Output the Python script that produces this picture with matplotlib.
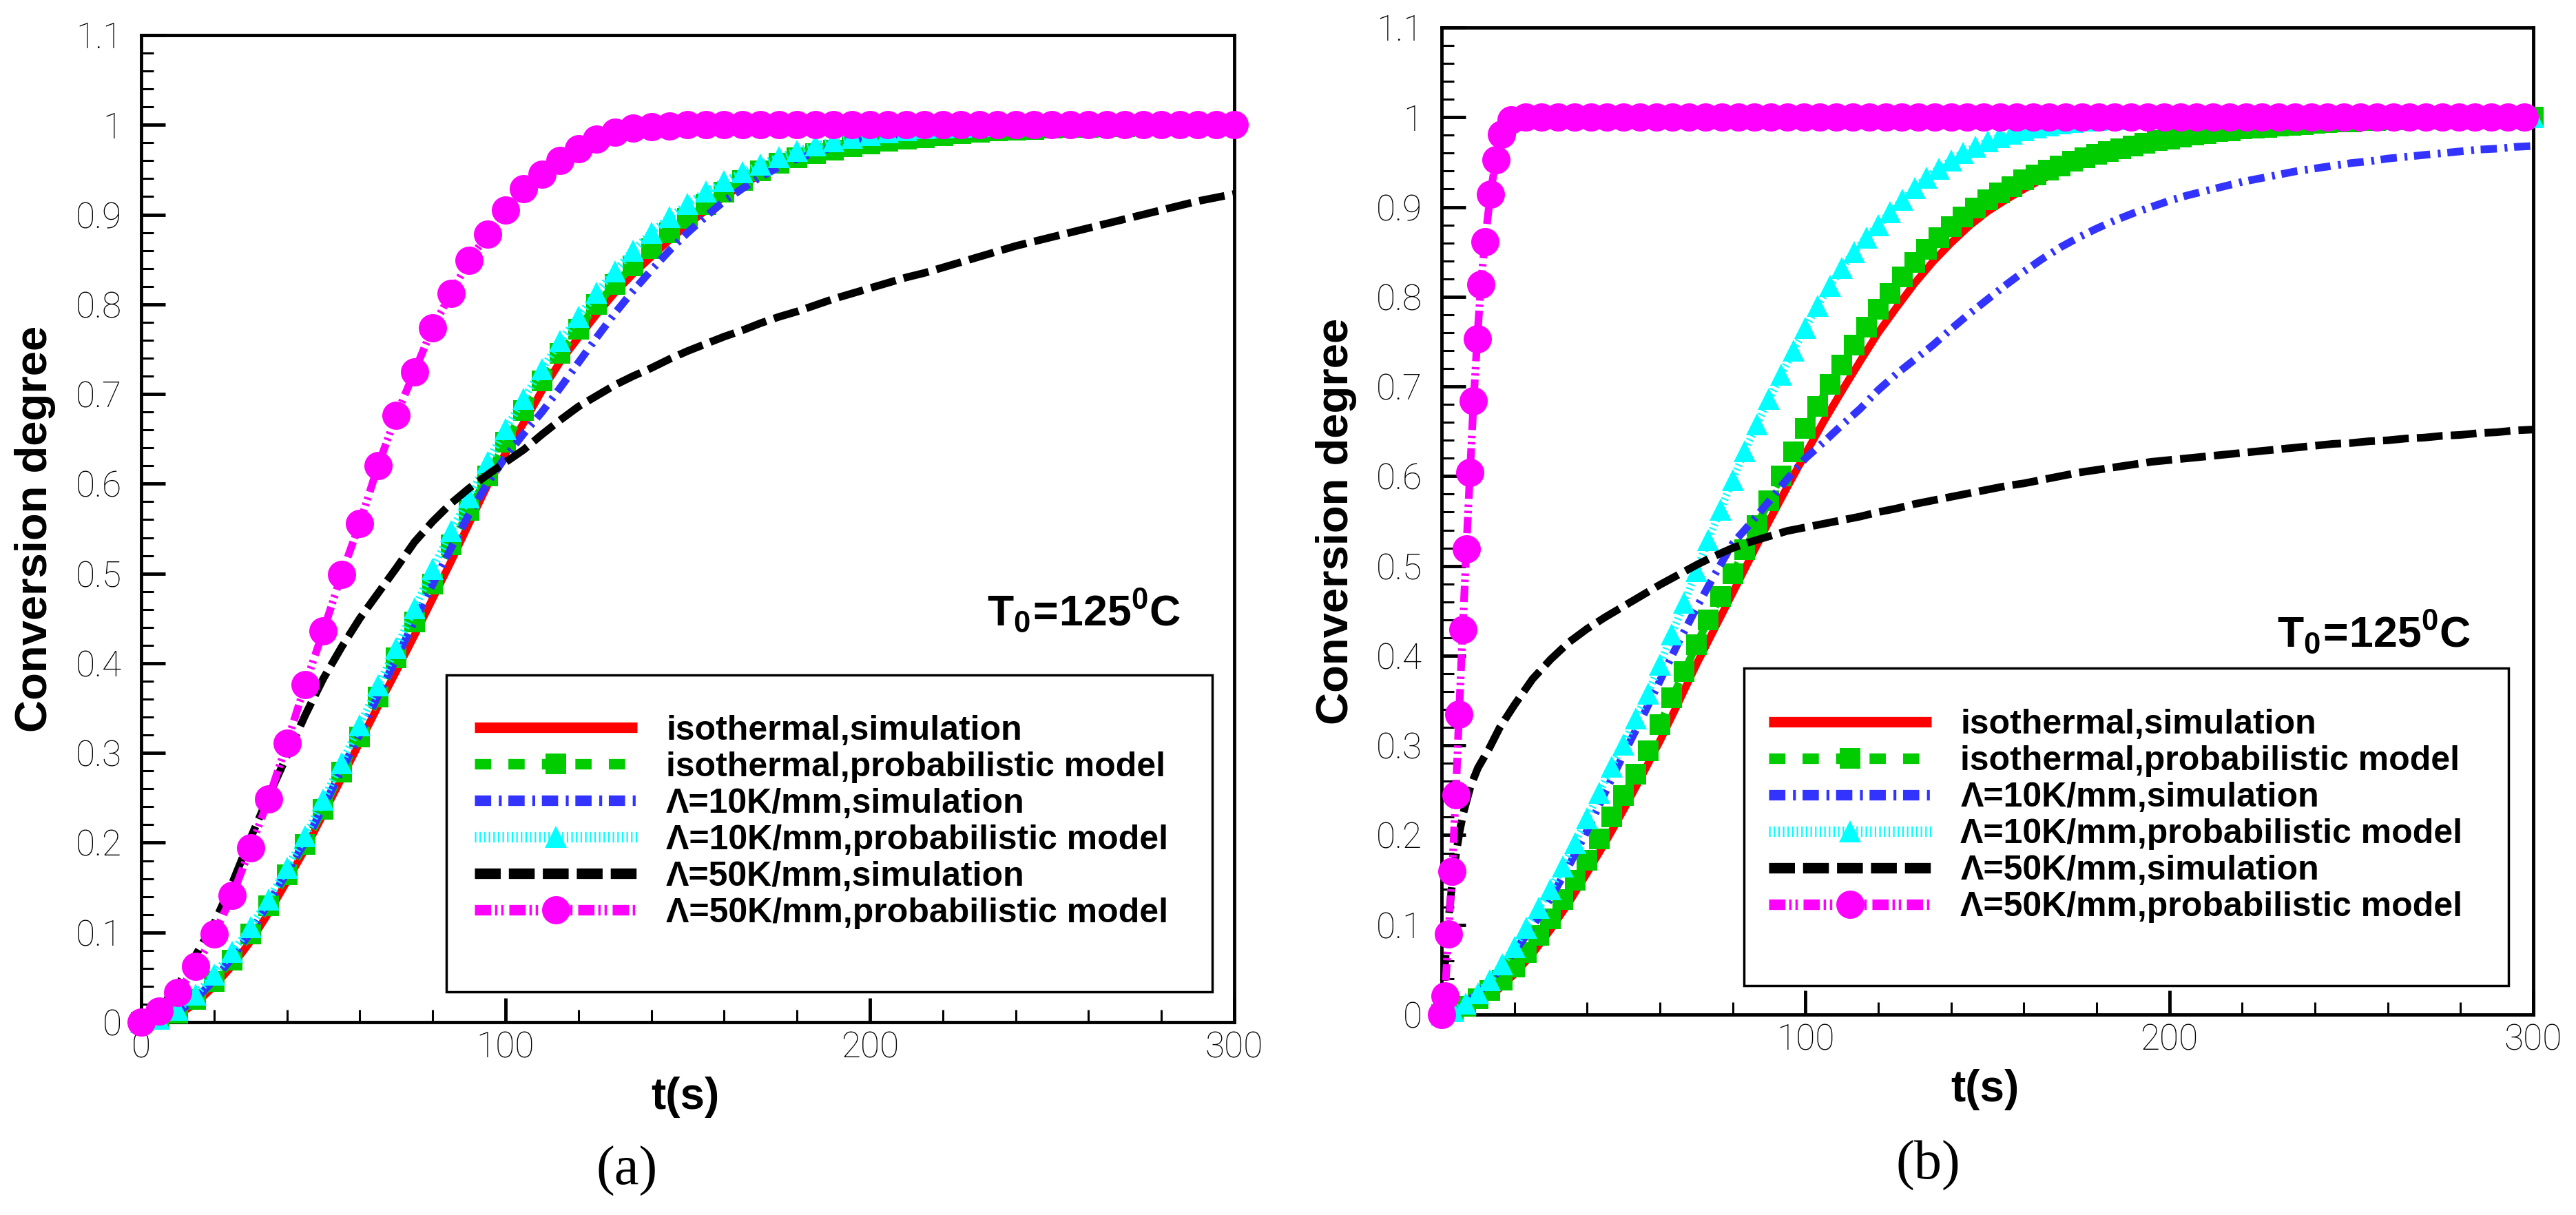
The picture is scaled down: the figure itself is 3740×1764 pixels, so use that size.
import matplotlib
matplotlib.use('Agg')
import matplotlib.pyplot as plt
from matplotlib.ticker import MultipleLocator
from matplotlib.patches import Rectangle

# ---------------- data ----------------
t5 = [0, 5, 10, 15, 20, 25, 30, 35, 40, 45, 50, 55, 60, 65, 70, 75, 80, 85, 90, 95,
      100, 105, 110, 115, 120, 125, 130, 135, 140, 145, 150, 155, 160, 165, 170, 175,
      180, 185, 190, 195, 200, 205, 210, 215, 220, 225, 230, 235, 240, 245, 250, 255,
      260, 265, 270, 275, 280, 285, 290, 295, 300]

# panel (a)
red_a = [0, .002, .008, .021, .040, .063, .090, .122, .157, .193, .232, .272, .312, .352, .391,
         .431, .472, .513, .556, .598, .634, .668, .704, .736, .763, .789, .813, .834, .853, .872,
         .889, .905, .920, .933, .945, .955, .963, .969, .974, .978, .982, .985, .987, .989, .991,
         .993, .994, .995, .996, .997, .998, .998, .999, .999, .999, 1, 1, 1, 1, 1, 1]
green_a = [0, .003, .010, .025, .045, .069, .098, .130, .164, .198, .237, .279, .318, .362, .406,
           .446, .488, .532, .570, .609, .646, .682, .715, .745, .772, .800, .822, .843, .862, .880,
           .896, .911, .925, .938, .949, .957, .963, .968, .972, .976, .979, .982, .984, .986, .988,
           .990, .992, .993, .994, .995, .996, .997, .997, .998, .998, .999, .999, .999, 1, 1, 1]
blue_a = [0, .003, .011, .026, .047, .072, .100, .133, .167, .201, .240, .281, .321, .364, .405,
          .447, .488, .528, .566, .600, .630, .656, .680, .707, .735, .763, .790, .815, .838, .860,
          .880, .898, .915, .929, .942, .953, .962, .969, .975, .980, .984, .987, .989, .991, .993,
          .994, .995, .996, .997, .998, .998, .999, .999, .999, 1, 1, 1, 1, 1, 1, 1]
cyan_a = [0, .004, .014, .031, .053, .078, .106, .137, .172, .207, .248, .289, .331, .375, .417,
          .461, .505, .547, .585, .624, .661, .695, .728, .759, .786, .813, .837, .860, .880, .897,
          .912, .926, .937, .947, .956, .964, .971, .977, .982, .986, .989, .992, .994, .996, .997,
          .998, .999, 1, 1, 1, 1, 1, 1, 1, 1, 1, 1, 1, 1, 1, 1]
black_a = [0, .015, .040, .075, .110, .155, .205, .252, .297, .342, .383, .418, .450, .478, .506,
           .535, .558, .578, .595, .610, .624, .638, .655, .671, .686, .698, .710, .720, .729, .739,
           .748, .756, .764, .771, .779, .786, .792, .799, .806, .812, .818, .824, .830, .835, .841,
           .847, .853, .859, .865, .870, .875, .880, .885, .890, .895, .900, .905, .910, .915, .919,
           .923]
magenta_a = [0, .012, .033, .062, .098, .141, .194, .249, .311, .376, .436, .499, .556, .620, .676,
             .725, .774, .812, .849, .878, .905, .929, .945, .960, .973, .984, .992, .996, .998, .999,
             1, 1, 1, 1, 1, 1, 1, 1, 1, 1, 1, 1, 1, 1, 1, 1, 1, 1, 1, 1, 1, 1, 1, 1, 1, 1, 1, 1, 1,
             1, 1]

# panel (b)
red_b = [0, .004, .012, .026, .045, .068, .095, .125, .158, .192, .228, .266, .305, .347, .390,
         .430, .470, .510, .550, .588, .625, .661, .695, .728, .760, .788, .815, .839, .860, .879,
         .895, .908, .920, .931, .940, .948, .955, .961, .966, .971, .975, .979, .982, .985, .987,
         .989, .991, .993, .994, .995, .996, .997, .997, .998, .998, .999, .999, .999, 1, 1, 1]
blue_b = [0, .008, .024, .045, .070, .098, .130, .166, .205, .248, .290, .330, .372, .414, .453,
          .490, .525, .548, .572, .597, .620, .638, .657, .675, .696, .714, .730, .746, .764, .781,
          .797, .813, .828, .842, .855, .866, .876, .885, .893, .900, .907, .913, .918, .923, .928,
          .932, .936, .940, .943, .946, .949, .951, .954, .956, .958, .960, .962, .964, .965, .967,
          .968]
t_bk = [0, 1, 2, 3, 4, 5, 6, 8, 10, 13, 16, 20, 25, 30, 35, 40, 45, 50, 55, 60, 65, 70, 75, 80,
        85, 90, 95, 100, 105, 110, 115, 120, 125, 130, 135, 140, 145, 150, 155, 160, 165, 170,
        175, 180, 185, 190, 195, 200, 205, 210, 215, 220, 225, 230, 235, 240, 245, 250, 255, 260,
        265, 270, 275, 280, 285, 290, 295, 300]
black_b = [0, .060, .110, .150, .180, .205, .225, .255, .275, .296, .320, .345, .374, .396, .415,
           .430, .443, .455, .467, .479, .490, .501, .511, .520, .527, .533, .539, .543, .547, .551,
           .555, .560, .564, .569, .573, .577, .581, .585, .589, .592, .596, .600, .604, .607, .610,
           .613, .616, .618, .620, .622, .624, .626, .628, .630, .632, .634, .636, .637, .639, .640,
           .642, .643, .645, .646, .648, .649, .651, .652]
t3 = [0, 3.3, 6.7, 10, 13.3, 16.7, 20, 23.3, 26.7, 30, 33.3, 36.7, 40, 43.3, 46.7, 50, 53.3, 56.7,
      60, 63.3, 66.7, 70, 73.3, 76.7, 80, 83.3, 86.7, 90, 93.3, 96.7, 100, 103.3, 106.7, 110, 113.3,
      116.7, 120, 123.3, 126.7, 130, 133.3, 136.7, 140, 143.3, 146.7, 150, 153.3, 156.7, 160, 163.3,
      166.7, 170, 173.3, 176.7, 180, 183.3, 186.7, 190, 193.3, 196.7, 200, 203.3, 206.7, 210, 213.3,
      216.7, 220, 223.3, 226.7, 230, 233.3, 236.7, 240, 243.3, 246.7, 250, 253.3, 256.7, 260, 263.3,
      266.7, 270, 273.3, 276.7, 280, 283.3, 286.7, 290, 293.3, 296.7, 300]
green_b = [0, .003, .009, .018, .027, .038, .053, .069, .088, .107, .128, .150, .172, .196, .220,
           .244, .268, .294, .323, .353, .382, .412, .440, .466, .491, .518, .545, .573, .600, .627,
           .653, .678, .702, .724, .746, .766, .786, .804, .822, .838, .853, .866, .878, .889, .899,
           .908, .916, .923, .930, .936, .941, .946, .951, .955, .959, .962, .965, .968, .971, .974,
           .976, .978, .980, .982, .984, .985, .987, .988, .989, .990, .991, .992, .993, .994, .995,
           .995, .996, .996, .997, .997, .998, .998, .998, .999, .999, .999, .999, 1, 1, 1, 1]
cyan_b = [0, .004, .012, .024, .038, .056, .075, .097, .119, .140, .165, .191, .219, .247, .276,
          .301, .330, .358, .390, .424, .459, .494, .529, .563, .596, .628, .658, .686, .713, .740,
          .765, .790, .812, .832, .850, .866, .880, .894, .908, .921, .933, .943, .952, .960, .967,
          .973, .978, .982, .986, .989, .991, .993, .995, .996, .997, .998, .998, .999, .999, .999,
          1, 1, 1, 1, 1, 1, 1, 1, 1, 1, 1, 1, 1, 1, 1, 1, 1, 1, 1, 1, 1, 1, 1, 1, 1, 1, 1, 1, 1, 1, 1]
t_mg = [0, 0.9, 1.9, 2.9, 3.9, 4.8, 5.8, 6.8, 7.8, 8.8, 9.8, 10.8, 11.9, 13.4, 14.9, 16.5, 19.2, 23.0,
        27.5, 32, 36.5, 41, 45.5, 50, 54.5, 59, 63.5, 68, 72.5, 77, 81.5, 86, 90.5, 95, 99.5, 104,
        108.5, 113, 117.5, 122, 126.5, 131, 135.5, 140, 144.5, 149, 153.5, 158, 162.5, 167, 171.5,
        176, 180.5, 185, 189.5, 194, 198.5, 203, 207.5, 212, 216.5, 221, 225.5, 230, 234.5, 239,
        243.5, 248, 252.5, 257, 261.5, 266, 270.5, 275, 279.5, 284, 288.5, 293, 297.5]
magenta_b = [0, .021, .090, .160, .245, .335, .429, .519, .604, .684, .753, .814, .861, .914, .953,
             .981, .997, 1.0,
             1, 1, 1, 1, 1, 1, 1, 1, 1, 1, 1, 1, 1, 1, 1, 1, 1, 1, 1, 1,
             1, 1, 1, 1, 1, 1, 1, 1, 1, 1, 1, 1, 1, 1, 1, 1, 1, 1, 1, 1,
             1, 1, 1, 1, 1, 1, 1, 1, 1, 1, 1, 1, 1, 1, 1, 1, 1, 1, 1, 1, 1]

labels = ['isothermal,simulation', 'isothermal,probabilistic model',
          'Λ=10K/mm,simulation', 'Λ=10K/mm,probabilistic model',
          'Λ=50K/mm,simulation', 'Λ=50K/mm,probabilistic model']
y_ticks = [0, 0.1, 0.2, 0.3, 0.4, 0.5, 0.6, 0.7, 0.8, 0.9, 1.0, 1.1]
y_ticklabels = ['0', '0.1', '0.2', '0.3', '0.4', '0.5', '0.6', '0.7', '0.8', '0.9', '1', '1.1']
x_ticks_a = [0, 100, 200, 300]
x_ticklabels_a = ['0', '100', '200', '300']
x_ticks_b = [100, 200, 300]
x_ticklabels_b = ['100', '200', '300']

# ---------------- style ----------------
plt.rcParams['font.family'] = ['Liberation Sans', 'DejaVu Sans']
plt.rcParams['lines.scale_dashes'] = False
plt.rcParams['mathtext.fontset'] = 'custom'
plt.rcParams['mathtext.rm'] = 'Liberation Sans'
plt.rcParams['mathtext.bf'] = 'Liberation Sans:bold'
plt.rcParams['mathtext.it'] = 'Liberation Sans:italic'

LW = 8
STYLES = [
    dict(color='#ff0000', ls='-', marker=None),
    dict(color='#00cc00', ls=(0, (17, 18)), marker='s', ms=22),
    dict(color='#3333ff', ls=(0, (17, 8, 3, 7)), marker=None),
    dict(color='#00ffff', ls=(0, (1.6, 3.2)), marker='^', ms=23),
    dict(color='#000000', ls=(0, (27, 8.5)), marker=None),
    dict(color='#ff00ff', ls=(0, (17, 4, 2.5, 4, 2.5, 6)), marker='o', ms=29.5),
]

fig = plt.figure(figsize=(37.41, 17.64), dpi=100)
W, H = 3741, 1764
ax_a = fig.add_axes([205 / W, 1 - 1484 / H, 1587 / W, 1433 / H])
ax_b = fig.add_axes([2093 / W, 1 - 1473 / H, 1585 / W, 1433 / H])

TICK_FONT = dict(family=['Roboto', 'Liberation Sans', 'DejaVu Sans'], weight='light', size=37)


def draw(ax, series, xt, xtl, leg_xy, frame, t0_xy, ylab_x):
    handles = []
    for i, ((tx, vy), st, lab) in enumerate(zip(series, STYLES, labels)):
        kw = dict(color=st['color'], lw=LW, linestyle=st['ls'], label=lab,
                  clip_on=False, zorder=2 + i, solid_capstyle='butt', dash_capstyle='butt')
        if st['marker']:
            kw.update(marker=st['marker'], ms=st['ms'], mew=0, mfc=st['color'])
        h, = ax.plot(tx, vy, **kw)
        handles.append(h)
    ax.set_xlim(0, 300)
    ax.set_ylim(0, 1.1)
    ax.set_xticks(xt)
    ax.set_xticklabels(xtl, fontdict=TICK_FONT)
    ax.set_yticks(y_ticks)
    ax.set_yticklabels(y_ticklabels, fontdict=TICK_FONT)
    ax.xaxis.set_minor_locator(MultipleLocator(20))
    ax.yaxis.set_minor_locator(MultipleLocator(0.02))
    ax.tick_params(which='major', direction='in', length=25, width=3.5,
                   top=False, right=False)
    ax.tick_params(which='minor', direction='in', length=13, width=2.2, top=False, right=False)
    ax.tick_params(axis='y', which='major', pad=20)
    ax.tick_params(axis='x', which='major', pad=9)
    for s in ax.spines.values():
        s.set_linewidth(3.5)
    # legend frame
    ax.add_patch(Rectangle((frame[0], frame[1]), frame[2], frame[3], transform=ax.transAxes,
                           fc='white', ec='black', lw=2.5, zorder=20, clip_on=False))
    leg = ax.legend(handles=handles, loc='upper left', bbox_to_anchor=leg_xy,
                    frameon=False, borderaxespad=0, borderpad=0, handlelength=4.72,
                    handletextpad=0.84, labelspacing=0.14, numpoints=1,
                    prop=dict(family=['Liberation Sans', 'DejaVu Sans'], weight='bold', size=36))
    leg.set_zorder(21)
    for ln in leg.get_lines():
        ln.set_linewidth(11)
    ax.text(t0_xy[0], t0_xy[1], r'$\mathbf{T_0\!=\!125^0C}$', transform=ax.transAxes,
            fontsize=45, ha='left', va='baseline', zorder=22)
    ax.text(ylab_x, 0.5, 'Conversion degree', transform=ax.transAxes, rotation=90,
            ha='center', va='center', fontsize=47, fontweight='bold')
    ax.text(0.498, -0.076, 't(s)', transform=ax.transAxes, ha='center', va='center',
            fontsize=46, fontweight='bold')


series_a = [(t5, red_a), (t5, green_a), (t5, blue_a), (t5, cyan_a), (t5, black_a), (t5, magenta_a)]
series_b = [(t5, red_b), (t3, green_b), (t5, blue_b), (t3, cyan_b), (t_bk, black_b), (t_mg, magenta_b)]

draw(ax_a, series_a, x_ticks_a, x_ticklabels_a, (0.305, 0.3115), (0.279, 0.031, 0.701, 0.321),
     (0.774, 0.402), -154 / 1587)
draw(ax_b, series_b, x_ticks_b, x_ticklabels_b, (0.300, 0.3097), (0.277, 0.029, 0.700, 0.322),
     (0.765, 0.3726), -153 / 1585)

fig.text(910 / W, 1 - 1700 / H, '(a)', family=['Liberation Serif', 'DejaVu Serif'], fontsize=58,
         ha='center', va='center')
fig.text(2799 / W, 1 - 1692 / H, '(b)', family=['Liberation Serif', 'DejaVu Serif'], fontsize=58,
         ha='center', va='center')

fig.savefig('out.png', dpi=100, facecolor='white')
